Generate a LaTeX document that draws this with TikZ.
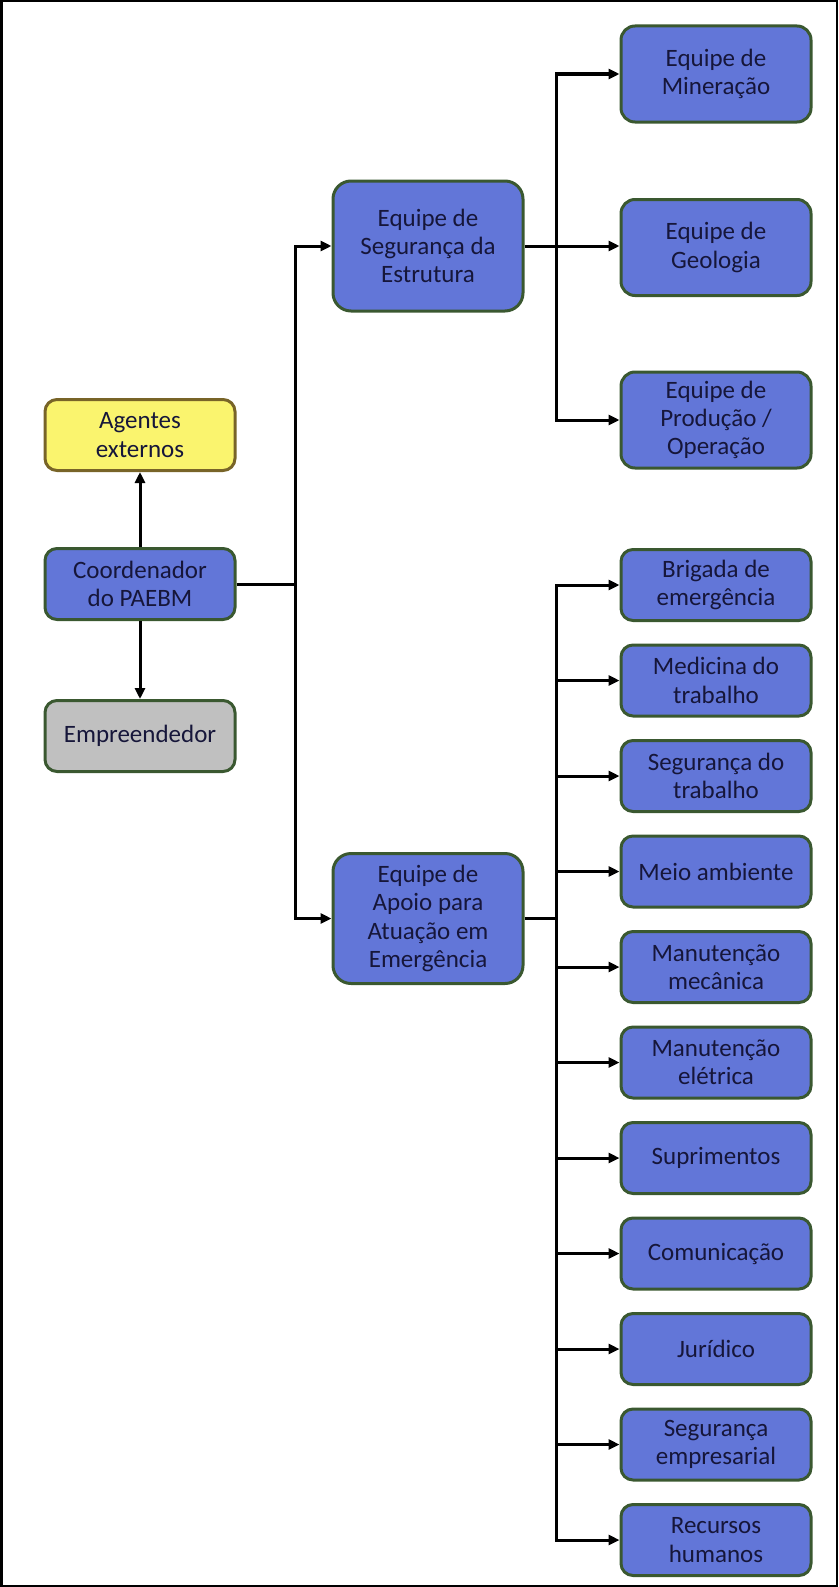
\documentclass[tikz,border=0pt]{standalone}
\usepackage{fontspec}
\setmainfont{Carlito}
\usetikzlibrary{arrows.meta}
\definecolor{boxblue}{RGB}{98,118,216}
\definecolor{boxedge}{RGB}{58,88,48}
\definecolor{navy}{RGB}{22,22,58}
\definecolor{yel}{RGB}{250,244,110}
\definecolor{yeledge}{RGB}{120,100,40}
\definecolor{gry}{RGB}{192,192,192}
\tikzset{
  box/.style={draw=boxedge, line width=3pt, rounded corners=12pt, fill=boxblue, text=navy,
    align=center, minimum width=190pt, minimum height=71pt, inner sep=0pt,
    font=\fontsize{25}{28.3}\selectfont},
  bigbox/.style={box, minimum height=130pt, rounded corners=18pt},
  midbox/.style={box, minimum height=96pt, rounded corners=14pt},
  conn/.style={line width=3pt, black},
  arr/.style={conn, -{Triangle[length=11pt,width=10pt]}}
}
\begin{document}
\begin{tikzpicture}[x=1pt,y=-1pt]
\useasboundingbox (0,0) rectangle (838,1587);
\draw[line width=2.5pt] (1.25,1.25) rectangle (836.75,1585.75);
% left column
\node[box, fill=yel, draw=yeledge] (ag) at (140,435) {Agentes\\externos};
\node[box] (co) at (140,584) {Coordenador\\do PAEBM};
\node[box, fill=gry] (em) at (140,736) {Empreendedor};
% middle
\node[bigbox] (seg) at (428,246) {Equipe de\\Segurança da\\Estrutura};
\node[bigbox] (apo) at (428,918.5) {Equipe de\\Apoio para\\Atuação em\\Emergência};
% right top
\node[midbox] (min) at (716,74) {Equipe de\\Mineração};
\node[midbox] (geo) at (716,247.5) {Equipe de\\Geologia};
\node[midbox] (pro) at (716,420) {Equipe de\\Produção /\\Operação};
% right bottom
\node[box] (b1) at (716,585) {Brigada de\\emergência};
\node[box] (b2) at (716,680.5) {Medicina do\\trabalho};
\node[box] (b3) at (716,776) {Segurança do\\trabalho};
\node[box] (b4) at (716,871.5) {Meio ambiente};
\node[box] (b5) at (716,967) {Manutenção\\mecânica};
\node[box] (b6) at (716,1062.5) {Manutenção\\elétrica};
\node[box] (b7) at (716,1158) {Suprimentos};
\node[box] (b8) at (716,1253.5) {Comunicação};
\node[box] (b9) at (716,1349) {Jurídico};
\node[box] (b10) at (716,1444.5) {Segurança\\empresarial};
\node[box] (b11) at (716,1540) {Recursos\\humanos};
% junction coordinates
\coordinate (j1) at (295,584);
\coordinate (jt) at (556,246);
\coordinate (jb) at (556,918.5);
% connectors left
\draw[arr] (co.north) -- (ag.south);
\draw[arr] (co.south) -- (em.north);
\draw[conn] (co.east) -- (j1);
\draw[arr] (j1) |- (seg.west);
\draw[arr] (j1) |- (apo.west);
% top group
\draw[conn] (seg.east) -- (jt);
\draw[arr] (jt) -- (jt -| geo.west);
\draw[arr] (jt) |- (min.west);
\draw[arr] (jt) |- (pro.west);
% bottom group
\draw[conn] (apo.east) -- (jb);
\foreach \b in {b1,b2,b3,b4,b5,b6,b7,b8,b9,b10,b11}{
  \draw[arr] (jb) |- (\b.west);
}
\end{tikzpicture}
\end{document}
